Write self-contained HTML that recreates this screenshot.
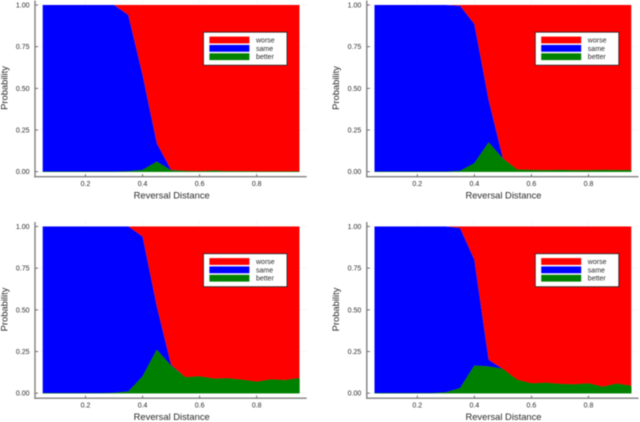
<!DOCTYPE html>
<html>
<head>
<meta charset="utf-8">
<style>
html,body{margin:0;padding:0;background:#fff;width:640px;height:422px;overflow:hidden}
svg{display:block;filter:blur(0.45px)}
text{font-family:"Liberation Sans",sans-serif;fill:#2a2a2a}
</style>
</head>
<body>
<svg id="fig" xmlns="http://www.w3.org/2000/svg" width="640" height="422" viewBox="0 0 640 422"></svg>
<script>
const distances = [0.05,0.1,0.15,0.2,0.25,0.3,0.35,0.4,0.45,0.5,0.55,0.6,0.65,0.7,0.75,0.8,0.85,0.9,0.95];
const xTickLabels = [0.2,0.4,0.6,0.8];
const yTickLabels = [0,0.25,0.5,0.75,1];
const legendLabels = ["worse","same","better"];

const betterA = [0,0,0,0,0,0,0.002,0.01,0.06,0.008,0.004,0.002,0.006,0.002,0.002,0.001,0.001,0.001,0.001];
const sameA   = [1,1,1,1,1,1,0.938,0.57,0.11,0.002,0,0,0,0,0,0,0,0,0];

const betterB = [0,0,0,0,0,0,0.004,0.05,0.175,0.078,0.012,0.01,0.008,0.01,0.008,0.008,0.01,0.009,0.009];
const sameB   = [1,1,1,1,1,1,0.991,0.835,0.255,0.002,0,0,0,0,0,0,0,0,0];

const betterC = [0,0,0,0,0,0.002,0.01,0.1,0.26,0.165,0.095,0.1,0.087,0.088,0.08,0.068,0.082,0.078,0.09];
const sameC   = [1,1,1,1,1,0.998,0.99,0.84,0.26,0.005,0,0,0,0,0,0,0,0,0];

const betterD = [0,0,0,0,0,0.005,0.03,0.165,0.16,0.145,0.08,0.058,0.062,0.055,0.052,0.058,0.038,0.057,0.043];
const sameD   = [1,1,1,1,1,0.995,0.96,0.635,0.04,0,0,0,0,0,0,0,0,0,0];

const panelNames = ["top-left","top-right","bottom-left","bottom-right"];
const panelBetter = [betterA,betterB,betterC,betterD];
const panelSame = [sameA,sameB,sameC,sameD];

const NS = "http://www.w3.org/2000/svg";
const fig = document.getElementById("fig");

function add(parent, tag, attrs, txt){
  const el = document.createElementNS(NS, tag);
  for (const k in attrs) el.setAttribute(k, attrs[k]);
  if (txt !== undefined) el.textContent = txt;
  parent.appendChild(el);
  return el;
}

function drawPanel(index, ox, oy){
  const better = panelBetter[index];
  const same = panelSame[index];
  const xScale = v => ox + 85.5 + (v - 0.2) * 285.3;
  const yScale = v => oy + 171.7 - v * 166.7;
  const g = add(fig, "g", {});
  
  

  // faint gridlines
  xTickLabels.forEach(t => {
    const l = add(g, "line", {x1:xScale(t), x2:xScale(t), y1:yScale(1)-5, y2:yScale(0)+5, stroke:"#f3f3f3", "stroke-width":0.7});
    
    
  });
  yTickLabels.forEach(t => {
    const l = add(g, "line", {x1:ox+35, x2:ox+306.7, y1:yScale(t), y2:yScale(t), stroke:"#f3f3f3", "stroke-width":0.7});
    
    
  });

  // stacked areas
  const bottom = distances.map(() => 0);
  const top1 = better.map(v => v);
  const top2 = better.map((v, i) => v + same[i]);
  const top3 = distances.map(() => 1);
  const band = (lo, hi) => {
    const up = distances.map((d, i) => xScale(d).toFixed(2) + "," + yScale(hi[i]).toFixed(2));
    const down = distances.map((d, i) => xScale(d).toFixed(2) + "," + yScale(lo[i]).toFixed(2)).reverse();
    return up.concat(down).join(" ");
  };
  const worse = add(g, "polygon", {points:band(top2, top3), fill:"#ff0000"});
  
  
  const sameArea = add(g, "polygon", {points:band(top1, top2), fill:"#0000ff"});
  
  
  const betterArea = add(g, "polygon", {points:band(bottom, top1), fill:"#008000", stroke:"#008000", "stroke-width":0.4});
  
  

  // axes
  const yAxis = add(g, "line", {x1:ox+35, x2:ox+35, y1:Math.max(0, yScale(1)-4.5), y2:yScale(0)+5.7, stroke:"#808080", "stroke-width":1.4});
  
  
  const xAxis = add(g, "line", {x1:ox+34.3, x2:ox+306.7, y1:yScale(0)+5, y2:yScale(0)+5, stroke:"#808080", "stroke-width":1.4});
  
  

  // ticks and labels
  xTickLabels.forEach(t => {
    const tick = add(g, "line", {x1:xScale(t), x2:xScale(t), y1:yScale(0)+4.5, y2:yScale(0)+2.5, stroke:"#333", "stroke-width":0.7});
    
    
    const lab = add(g, "text", {x:xScale(t), y:oy+186.2, "font-size":7, "text-anchor":"middle"}, t.toFixed(1));
    
    
  });
  yTickLabels.forEach(t => {
    const tick = add(g, "line", {x1:ox+35.5, x2:ox+38, y1:yScale(t), y2:yScale(t), stroke:"#333", "stroke-width":0.7});
    
    
    const lab = add(g, "text", {x:ox+29.5, y:yScale(t)+2.5, "font-size":7, "text-anchor":"end"}, t.toFixed(2));
    
    
  });

  const xTitle = add(g, "text", {x:ox+171.7, y:oy+198.5, "font-size":9.4, "text-anchor":"middle"}, "Reversal Distance");
  
  
  const yTitle = add(g, "text", {transform:"translate(" + (ox+7.4) + "," + (oy+88) + ") rotate(-90)", "font-size":9.4, "text-anchor":"middle"}, "Probability");
  
  

  // legend
  const lg = add(g, "g", {});
  
  
  const box = add(lg, "rect", {x:ox+203.5, y:oy+32.2, width:83.5, height:33, fill:"#fff", stroke:"#222", "stroke-width":0.8});
  
  
  const swatchColors = ["#ff0000","#0000ff","#008000"];
  legendLabels.forEach((name, i) => {
    const y = oy + 36.6 + i * 8.35;
    const sw = add(lg, "rect", {x:ox+209.4, y:y, width:40, height:6.8, fill:swatchColors[i]});
    
    
    const tx = add(lg, "text", {x:ox+256, y:y+5.9, "font-size":7}, name);
    
    
  });
}

drawPanel(0, 0, 0);
drawPanel(1, 331.8, 0);
drawPanel(2, 0, 221.5);
drawPanel(3, 331.8, 221.5);
</script>
</body>
</html>
